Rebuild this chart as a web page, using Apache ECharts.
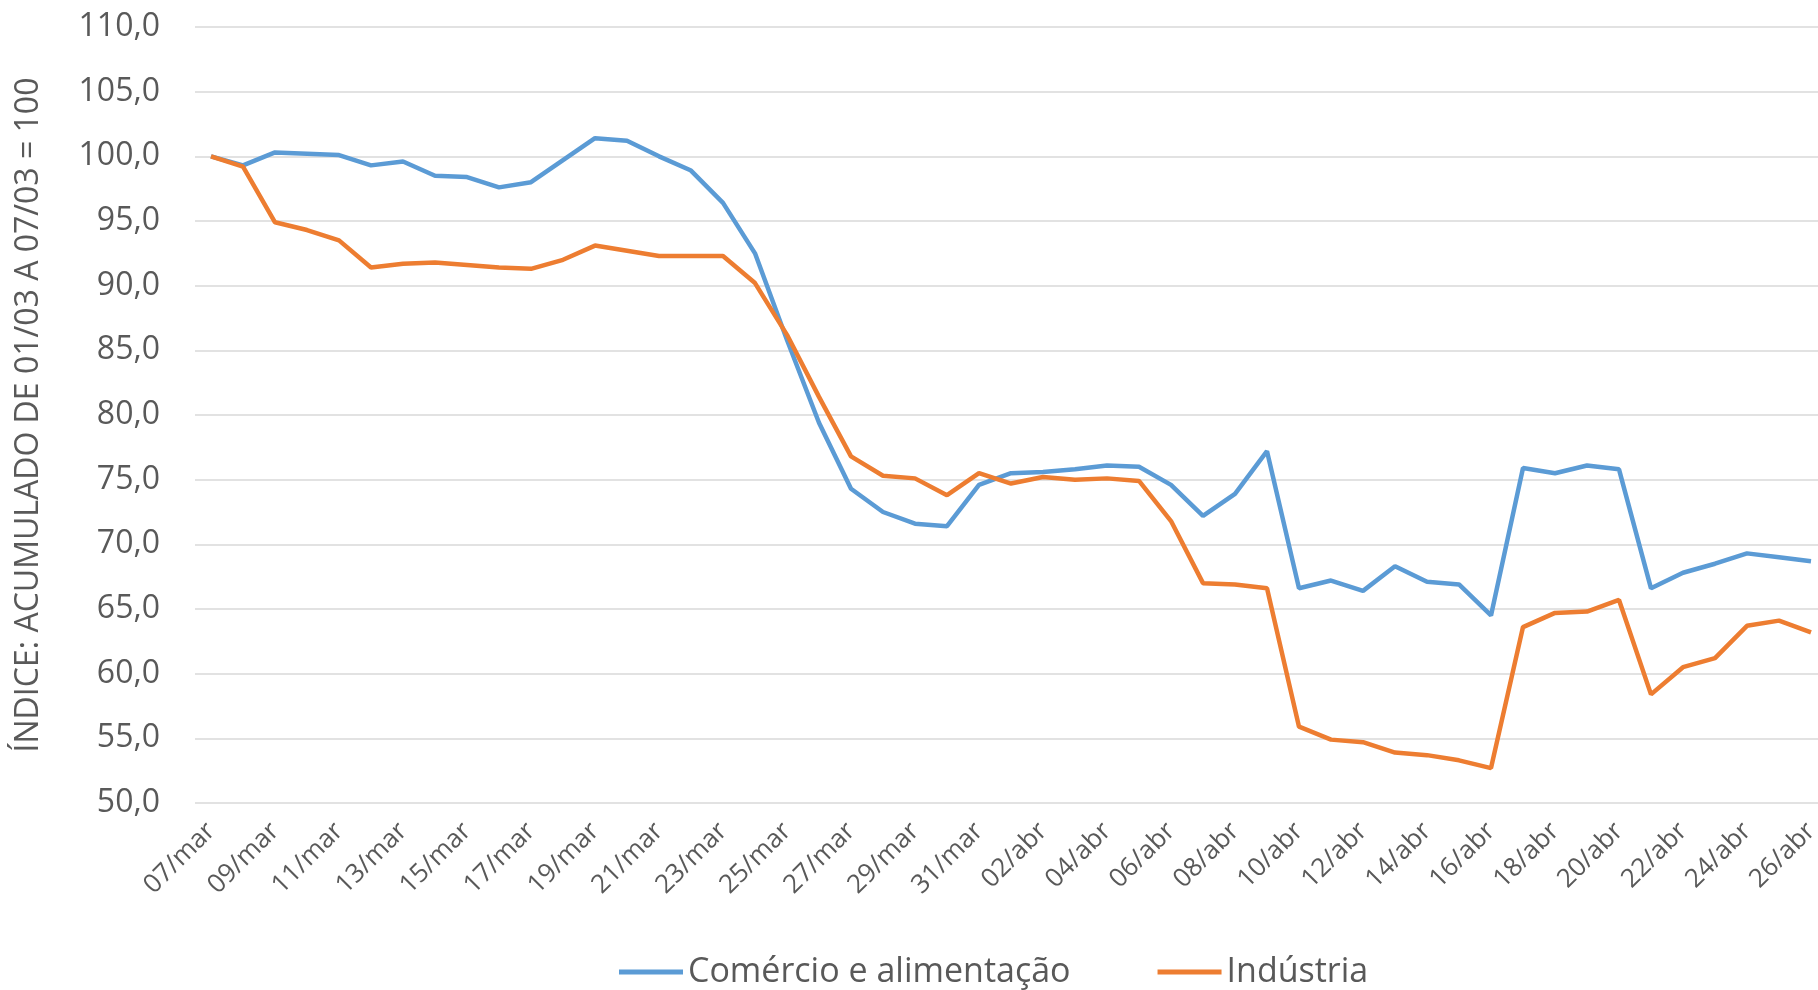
<!DOCTYPE html>
<html>
<head>
<meta charset="utf-8">
<script src="https://cdn.jsdelivr.net/npm/echarts@6/dist/echarts.min.js"></script>
<style>
body {
  margin: 0;
  padding: 0;
  background: #fff;
}

#chart {
  width: 1818px;
  height: 990px;
}
</style>
</head>
<body>
<div id="chart"></div>
<script>
const days = [
  '07/mar', '08/mar', '09/mar', '10/mar', '11/mar', '12/mar', '13/mar', '14/mar', '15/mar', '16/mar',
  '17/mar', '18/mar', '19/mar', '20/mar', '21/mar', '22/mar', '23/mar', '24/mar', '25/mar', '26/mar',
  '27/mar', '28/mar', '29/mar', '30/mar', '31/mar', '01/abr', '02/abr', '03/abr', '04/abr', '05/abr',
  '06/abr', '07/abr', '08/abr', '09/abr', '10/abr', '11/abr', '12/abr', '13/abr', '14/abr', '15/abr',
  '16/abr', '17/abr', '18/abr', '19/abr', '20/abr', '21/abr', '22/abr', '23/abr', '24/abr', '25/abr',
  '26/abr'
]

const comercio = [
  100.0, 99.3, 100.3, 100.2, 100.1, 99.3, 99.6, 98.5, 98.4, 97.6,
  98.0, 99.7, 101.4, 101.2, 100.0, 98.9, 96.4, 92.5, 85.8, 79.4,
  74.3, 72.5, 71.6, 71.4, 74.6, 75.5, 75.6, 75.8, 76.1, 76.0,
  74.6, 72.2, 73.9, 77.2, 66.6, 67.2, 66.4, 68.3, 67.1, 66.9,
  64.5, 75.9, 75.5, 76.1, 75.8, 66.6, 67.8, 68.5, 69.3, 69.0,
  68.7
]

const industria = [
  100.0, 99.2, 94.9, 94.3, 93.5, 91.4, 91.7, 91.8, 91.6, 91.4,
  91.3, 92.0, 93.1, 92.7, 92.3, 92.3, 92.3, 90.2, 86.2, 81.4,
  76.8, 75.3, 75.1, 73.8, 75.5, 74.7, 75.2, 75.0, 75.1, 74.9,
  71.8, 67.0, 66.9, 66.6, 55.9, 54.9, 54.7, 53.9, 53.7, 53.3,
  52.7, 63.6, 64.7, 64.8, 65.7, 58.4, 60.5, 61.2, 63.7, 64.1,
  63.2
]

const seriesNames = ['Comércio e alimentação', 'Indústria']
const colors = ['#5B9BD5', '#ED7D31']
const yTitle = 'ÍNDICE: ACUMULADO DE 01/03 A 07/03 = 100'

const font = "'Open Sans', sans-serif"

const chart = echarts.init(document.getElementById('chart'))
chart.setOption({
  backgroundColor: '#fff',
  animation: false,
  color: colors,
  textStyle: { fontFamily: font },
  grid: {
    left: 195,
    top: 27,
    width: 1632,
    height: 776,
    outerBoundsMode: 'none'
  },
  legend: {
    left: 614,
    top: 950,
    itemGap: 87,
    itemWidth: 64,
    itemHeight: 5,
    icon: 'rect',
    textStyle: { fontSize: 34, color: '#595959', fontFamily: font },
    data: seriesNames
  },
  xAxis: {
    type: 'category',
    data: days,
    boundaryGap: true,
    axisLine: { show: false },
    axisTick: { show: false },
    axisLabel: {
      interval: 1,
      rotate: 45,
      margin: 24,
      fontSize: 26,
      color: '#595959',
      fontFamily: font
    }
  },
  yAxis: {
    type: 'value',
    min: 50,
    max: 110,
    interval: 5,
    name: yTitle,
    nameLocation: 'middle',
    nameGap: 150,
    nameTextStyle: { fontSize: 32, color: '#595959', fontFamily: font },
    axisLine: { show: false },
    axisTick: { show: false },
    axisLabel: {
      margin: 35,
      fontSize: 32,
      color: '#595959',
      fontFamily: font,
      formatter: v => v.toFixed(1).replace('.', ',')
    },
    splitLine: { lineStyle: { color: '#d9d9d9', width: 1.5 } }
  },
  series: [
    {
      name: seriesNames[0],
      type: 'line',
      data: comercio,
      showSymbol: false,
      lineStyle: { width: 4.5 }
    },
    {
      name: seriesNames[1],
      type: 'line',
      data: industria,
      showSymbol: false,
      lineStyle: { width: 4.5 }
    }
  ]
})
</script>
</body>
</html>
